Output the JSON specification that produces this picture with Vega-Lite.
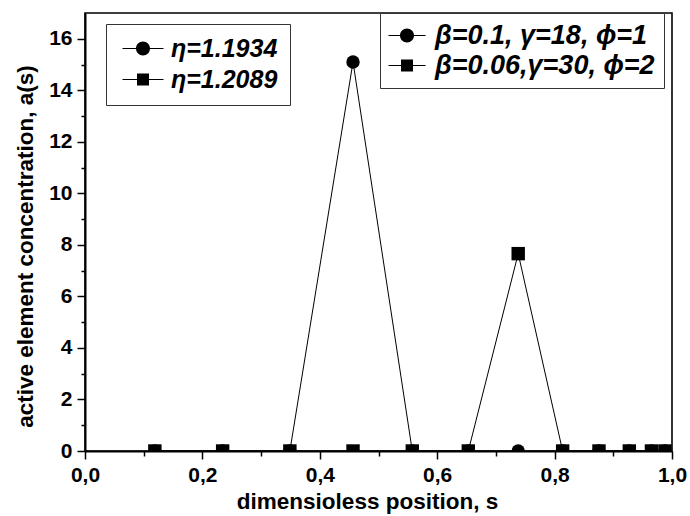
{
  "$schema": "https://vega.github.io/schema/vega-lite/v6.json",
  "width": 587,
  "height": 438,
  "autosize": "none",
  "padding": {"left": 85, "top": 13, "right": 18, "bottom": 65},
  "background": "white",
  "config": {
    "font": "Liberation Sans",
    "view": {"stroke": "black", "strokeWidth": 1.6},
    "axis": {
      "domainColor": "black", "domainWidth": 2, "tickColor": "black", "tickWidth": 1.5,
      "labelColor": "black", "labelFont": "Liberation Sans", "labelFontWeight": "bold", "labelFontSize": 21,
      "titleColor": "black", "titleFont": "Liberation Sans", "titleFontWeight": "bold", "titleFontSize": 22.5,
      "grid": false
    },
    "legend": {
      "labelFont": "Liberation Sans", "labelFontWeight": "bold", "labelFontStyle": "italic", "labelFontSize": 25,
      "labelColor": "black", "labelLimit": 600, "strokeColor": "#333333", "fillColor": "white",
      "symbolSize": 400, "rowPadding": 5,
      "orient": "none", "title": null
    }
  },
  "data": {
    "values": [
      {"s": 0.119, "a": 0, "eta": "η=1.1934", "params": "β=0.1, γ=18, ϕ=1"},
      {"s": 0.2345, "a": 0, "eta": "η=1.1934", "params": "β=0.1, γ=18, ϕ=1"},
      {"s": 0.349, "a": 0, "eta": "η=1.1934", "params": "β=0.1, γ=18, ϕ=1"},
      {"s": 0.4566, "a": 15.1, "eta": "η=1.1934", "params": "β=0.1, γ=18, ϕ=1"},
      {"s": 0.5576, "a": 0, "eta": "η=1.1934", "params": "β=0.1, γ=18, ϕ=1"},
      {"s": 0.653, "a": 0, "eta": "η=1.1934", "params": "β=0.1, γ=18, ϕ=1"},
      {"s": 0.738, "a": 0, "eta": "η=1.1934", "params": "β=0.1, γ=18, ϕ=1"},
      {"s": 0.8137, "a": 0, "eta": "η=1.1934", "params": "β=0.1, γ=18, ϕ=1"},
      {"s": 0.8756, "a": 0, "eta": "η=1.1934", "params": "β=0.1, γ=18, ϕ=1"},
      {"s": 0.9273, "a": 0, "eta": "η=1.1934", "params": "β=0.1, γ=18, ϕ=1"},
      {"s": 0.965, "a": 0, "eta": "η=1.1934", "params": "β=0.1, γ=18, ϕ=1"},
      {"s": 0.988, "a": 0, "eta": "η=1.1934", "params": "β=0.1, γ=18, ϕ=1"},
      {"s": 0.119, "a": 0, "eta": "η=1.2089", "params": "β=0.06,γ=30, ϕ=2"},
      {"s": 0.2345, "a": 0, "eta": "η=1.2089", "params": "β=0.06,γ=30, ϕ=2"},
      {"s": 0.349, "a": 0, "eta": "η=1.2089", "params": "β=0.06,γ=30, ϕ=2"},
      {"s": 0.4566, "a": 0, "eta": "η=1.2089", "params": "β=0.06,γ=30, ϕ=2"},
      {"s": 0.5576, "a": 0, "eta": "η=1.2089", "params": "β=0.06,γ=30, ϕ=2"},
      {"s": 0.653, "a": 0, "eta": "η=1.2089", "params": "β=0.06,γ=30, ϕ=2"},
      {"s": 0.738, "a": 7.66, "eta": "η=1.2089", "params": "β=0.06,γ=30, ϕ=2"},
      {"s": 0.8137, "a": 0, "eta": "η=1.2089", "params": "β=0.06,γ=30, ϕ=2"},
      {"s": 0.8756, "a": 0, "eta": "η=1.2089", "params": "β=0.06,γ=30, ϕ=2"},
      {"s": 0.9273, "a": 0, "eta": "η=1.2089", "params": "β=0.06,γ=30, ϕ=2"},
      {"s": 0.965, "a": 0, "eta": "η=1.2089", "params": "β=0.06,γ=30, ϕ=2"},
      {"s": 0.988, "a": 0, "eta": "η=1.2089", "params": "β=0.06,γ=30, ϕ=2"}
    ]
  },
  "resolve": {
    "axis": {"x": "independent", "y": "independent"},
    "scale": {"shape": "independent"},
    "legend": {"shape": "independent"}
  },
  "layer": [
    {
      "mark": {"type": "line", "color": "black", "strokeWidth": 1, "clip": true},
      "encoding": {
        "x": {"field": "s", "type": "quantitative", "scale": {"domain": [0, 1], "nice": false},
          "axis": {"orient": "bottom", "values": [0, 0.2, 0.4, 0.6, 0.8, 1.0], "tickSize": 8, "labelPadding": 5,
            "labelExpr": "replace(format(datum.value, '.1f'), '.', ',')", "labelFlush": false,
            "title": "dimensioless position, s", "titleX": 282, "titleY": 57, "titleBaseline": "alphabetic"}},
        "y": {"field": "a", "type": "quantitative", "scale": {"domain": [0, 17], "nice": false},
          "axis": {"orient": "left", "values": [0, 2, 4, 6, 8, 10, 12, 14, 16], "tickSize": 8, "labelPadding": 5,
            "title": "active element concentration, a(s)", "titleX": -60, "titleY": 233, "titleBaseline": "middle"}},
        "detail": {"field": "eta"}
      }
    },
    {
      "mark": {"type": "point", "filled": true, "color": "black", "opacity": 1, "size": 180, "clip": true},
      "encoding": {
        "x": {"field": "s", "type": "quantitative", "axis": null},
        "y": {"field": "a", "type": "quantitative", "axis": null},
        "shape": {"field": "eta", "type": "nominal", "scale": {"range": ["circle", "square"]}, "legend": null}
      }
    },
    {
      "transform": [{"filter": "false"}],
      "mark": {"type": "point", "opacity": 0},
      "encoding": {
        "x": {"field": "s", "type": "quantitative",
          "axis": {"orient": "bottom", "values": [0.1, 0.3, 0.5, 0.7, 0.9], "tickSize": 5, "labels": false, "domain": false, "title": null}},
        "y": {"field": "a", "type": "quantitative",
          "axis": {"orient": "left", "values": [1, 3, 5, 7, 9, 11, 13, 15], "tickSize": 4, "labels": false, "domain": false, "title": null}}
      }
    },
    {
      "transform": [{"filter": "false"}],
      "mark": {"type": "point", "filled": true, "color": "black", "opacity": 1},
      "encoding": {
        "x": {"field": "s", "type": "quantitative", "axis": null},
        "y": {"field": "a", "type": "quantitative", "axis": null},
        "shape": {"field": "eta", "type": "nominal",
          "scale": {"domain": ["η=1.1934", "η=1.2089"],
            "range": ["M-2.05,-0.05H-0.7V0.05H-2.05Z M0.7,-0.05H2.05V0.05H0.7Z M-0.7,0A0.7,0.7,0,1,1,0.7,0A0.7,0.7,0,1,1,-0.7,0Z", "M-2.05,-0.05H-0.6V0.05H-2.05Z M0.6,-0.05H2.05V0.05H0.6Z M-0.6,-0.6H0.6V0.6H-0.6Z"]},
          "legend": {"legendX": 21, "legendY": 11, "padding": 12, "symbolOffset": 12.5, "labelOffset": 15.5}}
      }
    },
    {
      "transform": [{"filter": "false"}],
      "mark": {"type": "point", "filled": true, "color": "black", "opacity": 1},
      "encoding": {
        "x": {"field": "s", "type": "quantitative", "axis": null},
        "y": {"field": "a", "type": "quantitative", "axis": null},
        "shape": {"field": "params", "type": "nominal",
          "scale": {"domain": ["β=0.1, γ=18, ϕ=1", "β=0.06,γ=30, ϕ=2"],
            "range": ["M-1.85,-0.05H-0.7V0.05H-1.85Z M0.7,-0.05H1.85V0.05H0.7Z M-0.7,0A0.7,0.7,0,1,1,0.7,0A0.7,0.7,0,1,1,-0.7,0Z", "M-1.85,-0.05H-0.6V0.05H-1.85Z M0.6,-0.05H1.85V0.05H0.6Z M-0.6,-0.6H0.6V0.6H-0.6Z"]},
          "legend": {"legendX": 295, "legendY": 0, "padding": 9, "symbolOffset": 4.5, "labelOffset": 14.5, "labelFontSize": 27, "rowPadding": 2}}
      }
    }
  ]
}
